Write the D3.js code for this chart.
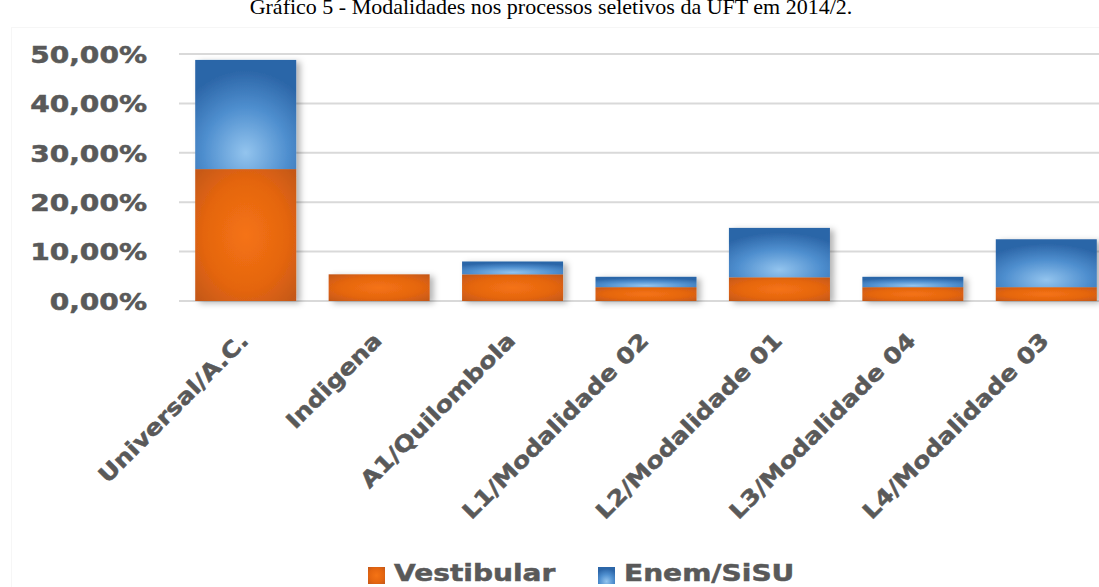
<!DOCTYPE html>
<html lang="pt-BR">
<head>
<meta charset="utf-8">
<title>Modalidades nos processos seletivos da UFT em 2014/2</title>
<script src="https://cdn.jsdelivr.net/npm/d3@7"></script>
<style>
  html, body { margin: 0; padding: 0; background: #ffffff; overflow: hidden; }
  svg { display: block; }
</style>
</head>
<body>
<svg id="chart"></svg>
<script>
// Dati (valori in %)
var categorie = ["Universal/A.C.", "Indigena", "A1/Quilombola", "L1/Modalidade 02",
                 "L2/Modalidade 01", "L3/Modalidade 04", "L4/Modalidade 03"];
var vestibular = [26.7, 5.4, 5.4, 2.8, 4.8, 2.8, 2.8];
var enemSisu = [22.1, 0, 2.6, 2.1, 10.0, 2.1, 9.7];
var serie = ["Vestibular", "Enem/SiSU"];
var yTicks = [0, 10, 20, 30, 40, 50];

var W = 1099, H = 587;
var plot = { left: 179, right: 1113, top: 54, bottom: 301 };
var grigio = "#595959";
var fontBold = "'DejaVu Sans', sans-serif";

var svg = d3.select("#chart")
    .attr("width", W)
    .attr("height", H)
    .attr("viewBox", "0 0 " + W + " " + H);

var defs = svg.append("defs");

// gradienti radiali per le barre
var gO = defs.append("radialGradient").attr("id", "gradOrange")
    .attr("cx", "50%").attr("cy", "50%").attr("r", "70%");
gO.append("stop").attr("offset", "0%").attr("stop-color", "#f57314");
gO.append("stop").attr("offset", "60%").attr("stop-color", "#e4650f");
gO.append("stop").attr("offset", "100%").attr("stop-color", "#c2571a");

var gB = defs.append("radialGradient").attr("id", "gradBlue")
    .attr("cx", "50%").attr("cy", "85%").attr("r", "75%");
gB.append("stop").attr("offset", "0%").attr("stop-color", "#93c4ee");
gB.append("stop").attr("offset", "55%").attr("stop-color", "#4f8fcf");
gB.append("stop").attr("offset", "100%").attr("stop-color", "#2c66a8");

var shadow = defs.append("filter").attr("id", "ombra")
    .attr("x", "-20%").attr("y", "-20%").attr("width", "150%").attr("height", "150%");
shadow.append("feDropShadow")
    .attr("dx", 4).attr("dy", 2).attr("stdDeviation", 3)
    .attr("flood-color", "#000").attr("flood-opacity", 0.3);

// bordo leggero dell'area del grafico
svg.append("rect")
    .attr("x", 11.5).attr("y", 27.5)
    .attr("width", 1200).attr("height", 700)
    .attr("fill", "none")
    .attr("stroke", "#f6f6f6");

//TITOLO (tagliato in alto come nell'originale)
svg.append("text")
    .attr("x", 551)
    .attr("y", 14)
    .attr("text-anchor", "middle")
    .style("font-family", "'Liberation Serif', 'Times New Roman', serif")
    .style("font-size", "22px")
    .style("fill", "#000")
    .text("Gráfico 5 - Modalidades nos processos seletivos da UFT em 2014/2.");

//Asse X
var x = d3.scaleBand()
    .domain(categorie)
    .range([plot.left, plot.right])
    .paddingInner(0.243)
    .paddingOuter(0.1215);

//Asse Y
var y = d3.scaleLinear()
    .domain([0, 50])
    .range([plot.bottom, plot.top]);

var pt = d3.formatLocale({ decimal: ",", thousands: ".", grouping: [3], currency: ["R$", ""] });
var fmt = pt.format(".2f");

// griglia
svg.append("g")
    .attr("class", "grid")
    .selectAll("line")
    .data(yTicks)
    .enter()
    .append("line")
    .attr("x1", plot.left)
    .attr("x2", plot.right)
    .attr("y1", d => y(d))
    .attr("y2", d => y(d))
    .attr("stroke", "#d9d9d9")
    .attr("stroke-width", 2);

// etichette asse Y
var yAxis = svg.append("g")
    .attr("class", "yAxis")
    .attr("transform", "translate(147,0)")
    .call(d3.axisLeft(y).tickValues(yTicks).tickSize(0).tickPadding(0).tickFormat(d => fmt(d) + "%"))
    .call(g => g.select(".domain").remove());

yAxis.selectAll(".tick text")
    .attr("x", 0)
    .attr("dy", "0.36em")
    .attr("text-anchor", "end")
    .attr("transform", "scale(1.22,1)")
    .style("font-family", fontBold)
    .style("font-weight", "bold")
    .style("font-size", "23px")
    .style("fill", grigio)
    .style("stroke", grigio)
    .style("stroke-width", 0.5);

//Barchart impilato
var righe = categorie.map((c, i) => ({ cat: c, v: vestibular[i], e: enemSisu[i] }));

var barre = svg.append("g").attr("class", "bars")
    .selectAll("g")
    .data(righe)
    .enter()
    .append("g")
    .attr("filter", "url(#ombra)");

barre.append("rect")
    .attr("x", d => x(d.cat))
    .attr("y", d => y(d.v))
    .attr("width", x.bandwidth())
    .attr("height", d => y(0) - y(d.v))
    .attr("fill", "url(#gradOrange)");

barre.filter(d => d.e > 0)
    .append("rect")
    .attr("x", d => x(d.cat))
    .attr("y", d => y(d.v + d.e))
    .attr("width", x.bandwidth())
    .attr("height", d => y(d.v) - y(d.v + d.e))
    .attr("fill", "url(#gradBlue)");

// etichette categorie ruotate
svg.append("g")
    .attr("class", "xLabels")
    .selectAll("text")
    .data(categorie)
    .enter()
    .append("text")
    .attr("transform", d => "translate(" + (x(d) + x.bandwidth() / 2 + 4) + ",342) rotate(-45) scale(1.15,1)")
    .attr("text-anchor", "end")
    .style("font-family", fontBold)
    .style("font-weight", "bold")
    .style("font-size", "22px")
    .style("fill", grigio)
    .style("stroke", grigio)
    .style("stroke-width", 0.5)
    .text(d => d);

// Legenda
var legX = [368, 598];
var legend = svg.append("g").attr("class", "legend")
    .selectAll("g")
    .data(serie)
    .enter()
    .append("g")
    .attr("transform", (d, i) => "translate(" + legX[i] + ",567)");

legend.append("rect")
    .attr("width", 17)
    .attr("height", 17)
    .attr("fill", (d, i) => i === 0 ? "url(#gradOrange)" : "url(#gradBlue)");

legend.append("text")
    .attr("transform", "translate(26,14) scale(1.22,1)")
    .style("font-family", fontBold)
    .style("font-weight", "bold")
    .style("font-size", "23px")
    .style("fill", grigio)
    .style("stroke", grigio)
    .style("stroke-width", 0.5)
    .text(d => d);
</script>
</body>
</html>
